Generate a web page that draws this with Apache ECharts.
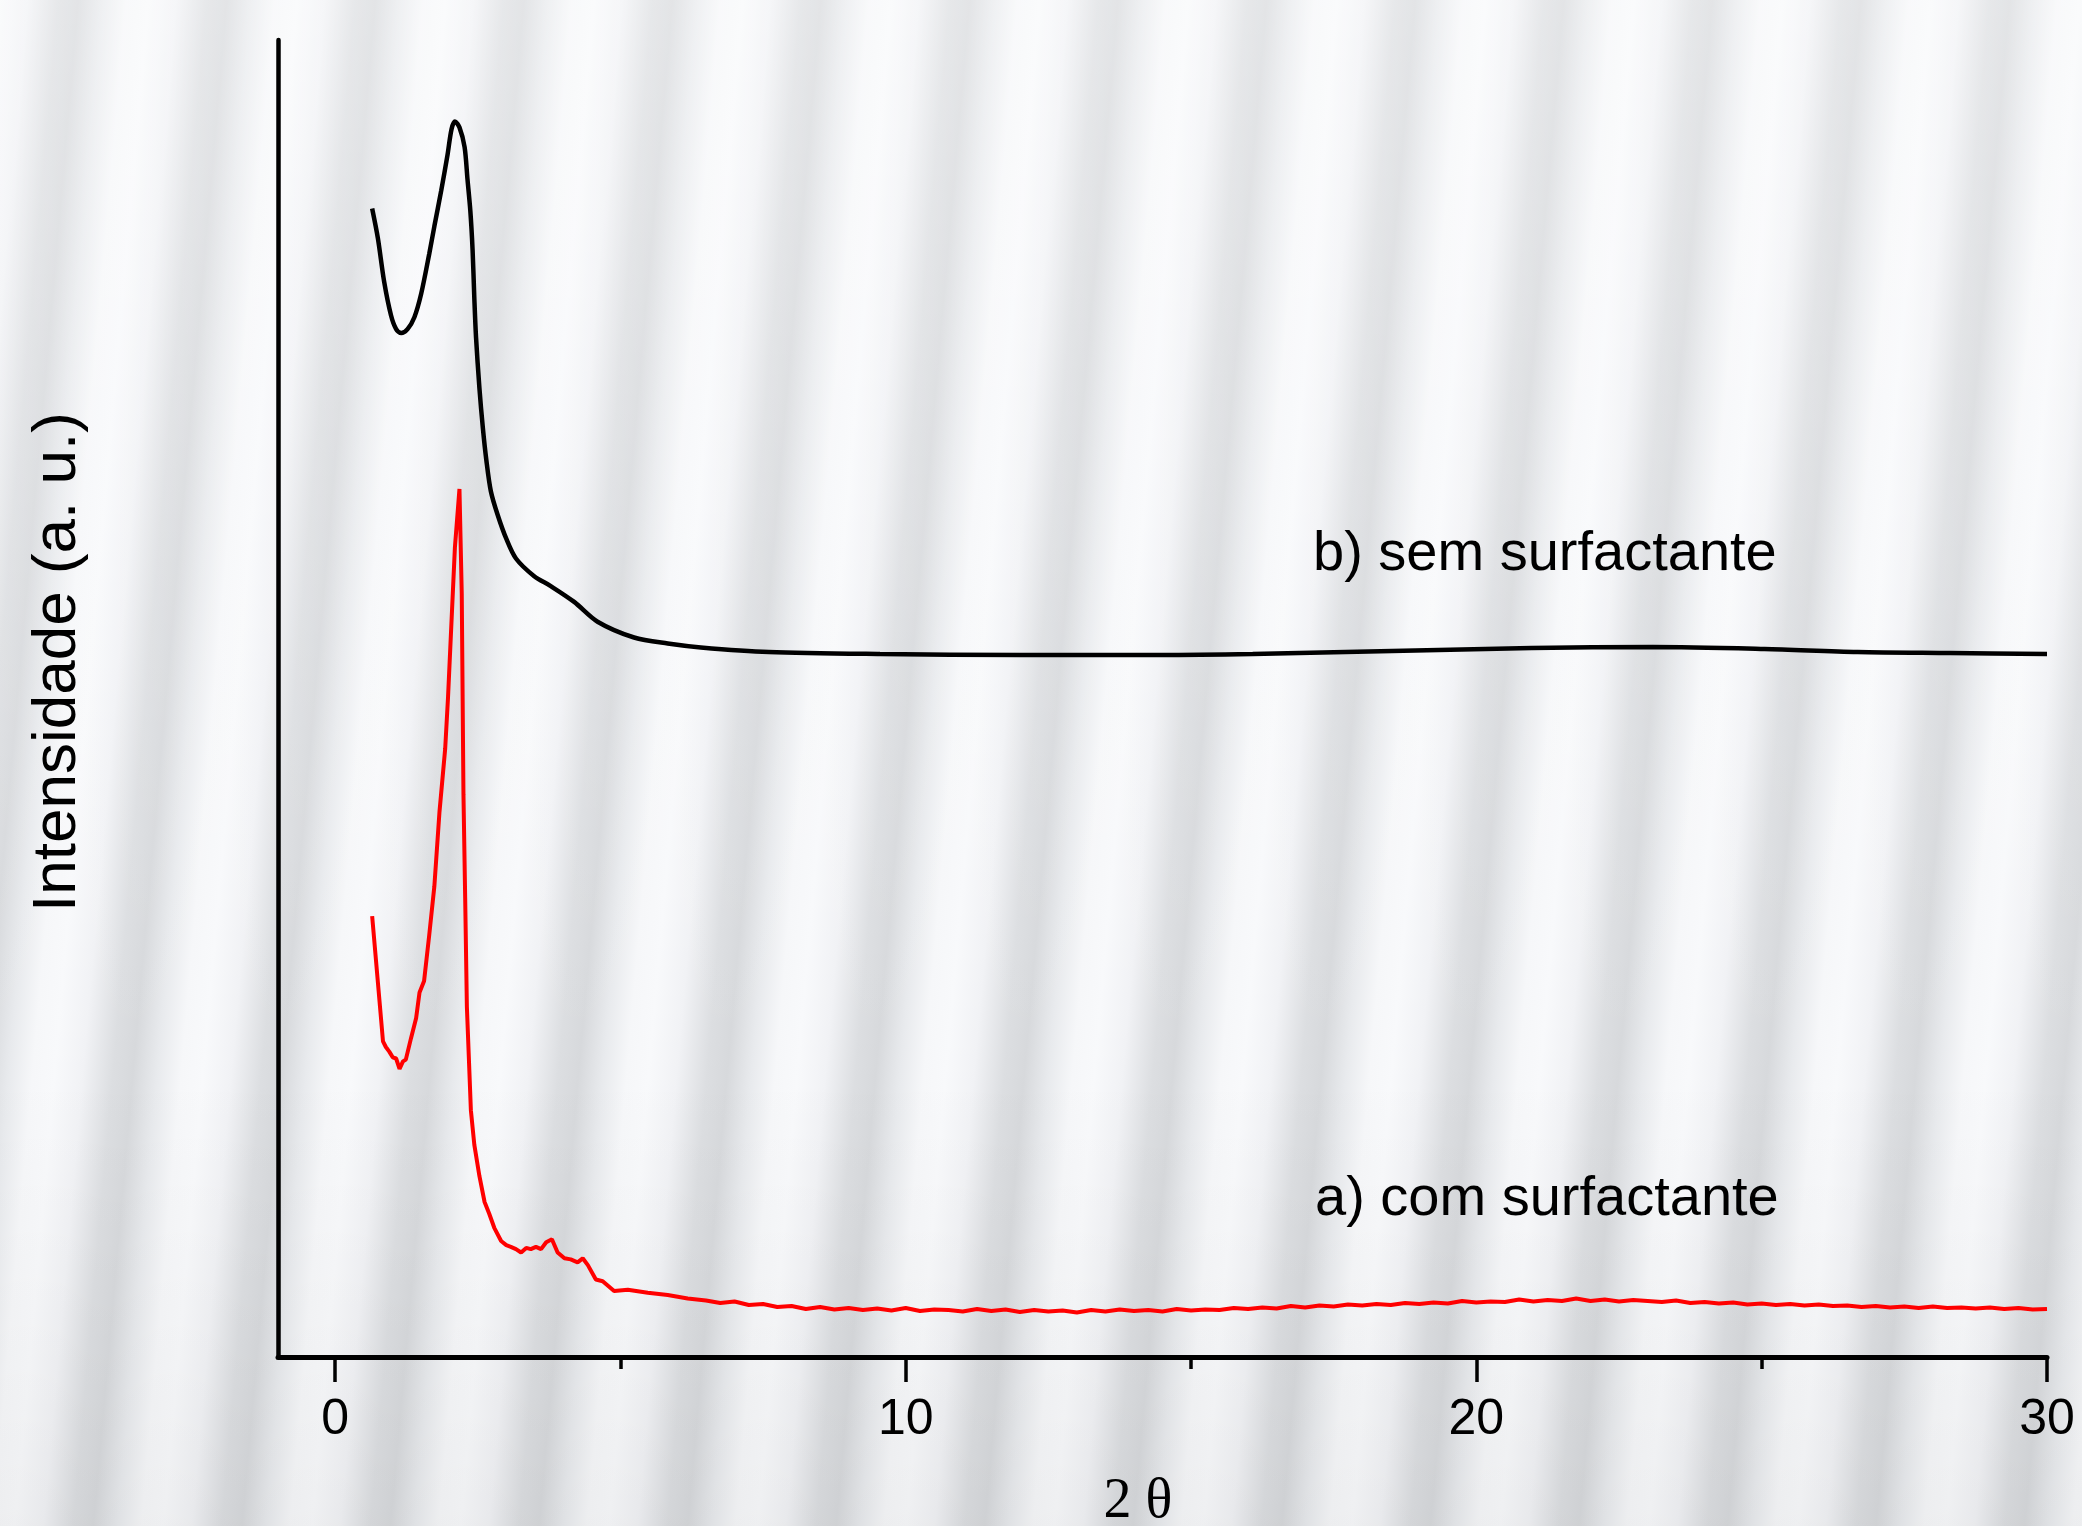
<!DOCTYPE html>
<html>
<head>
<meta charset="utf-8">
<script src="https://cdn.jsdelivr.net/npm/echarts@6/dist/echarts.min.js"></script>
<style>
html,body{margin:0;padding:0;}
#bg{position:absolute;left:0;top:0;width:2082px;height:1526px;
background:
 linear-gradient(180deg, rgba(255,255,255,0.30) 0%, rgba(255,255,255,0.12) 40%, rgba(0,0,0,0.00) 70%, rgba(0,0,0,0.04) 100%),
 repeating-linear-gradient(95deg, #f8f9fb 0px, #f1f2f5 28px, #dcdee1 58px, #d7d9dc 78px, #e8eaed 102px, #f6f7f9 126px, #f8f9fb 148px);}
#chart{position:absolute;left:0;top:0;width:2082px;height:1526px;}
</style>
</head>
<body>
<div id="bg"></div>
<div id="chart"></div>
<script>
// 2θ (degrees) and intensity (a. u.)
const semX = [0.65,0.75,0.86,0.98,1.07,1.16,1.27,1.39,1.51,1.65,1.74,1.86,1.97,2.04,2.10,2.18,2.27,2.32,2.37,2.41,2.44,2.47,2.53,2.59,2.65,2.73,2.85,3.00,3.17,3.49,3.78,4.19,4.60,5.24,5.83,6.41,7.60,9.55,12.0,14.45,16.08,18.52,20.97,23.09,25.05,26.68,28.31,30.0];
const semY = [114.85,111.88,107.53,104.17,102.79,102.39,102.79,103.98,106.35,110.30,113.07,116.63,120.19,122.76,123.55,122.96,120.98,117.81,114.65,110.70,105.95,102.00,96.86,92.90,89.74,86.58,84.20,81.83,79.85,78.08,77.09,75.51,73.53,71.95,71.35,70.96,70.5,70.3,70.2,70.2,70.3,70.6,70.9,71.0,70.8,70.5,70.4,70.3];

const comX = [0.65,0.84,0.89,0.95,1.01,1.07,1.13,1.19,1.24,1.33,1.42,1.48,1.56,1.65,1.74,1.83,1.93,1.98,2.04,2.10,2.18,2.22,2.25,2.28,2.31,2.38,2.44,2.53,2.62,2.70,2.79,2.91,3.00,3.08,3.17,3.26,3.35,3.43,3.52,3.61,3.70,3.80,3.90,4.02,4.13,4.25,4.34,4.43,4.57,4.69,4.89,5.13,5.48,5.83,6.18,
 6.5,6.75,7.0,7.25,7.5,7.75,8.0,8.25,8.5,8.75,9.0,9.25,9.5,9.75,10,10.25,10.5,10.75,11,11.25,11.5,11.75,12,12.25,12.5,12.75,13,13.25,13.5,13.75,14,14.25,14.5,14.75,15,15.25,15.5,15.75,16,16.25,16.5,16.75,17,17.25,17.5,17.75,18,18.25,18.5,18.75,19,19.25,19.5,19.75,20,20.25,20.5,20.75,21,21.25,21.5,21.75,22,22.25,22.5,22.75,23,23.25,23.5,23.75,24,24.25,24.5,24.75,25,25.25,25.5,25.75,26,26.25,26.5,26.75,27,27.25,27.5,27.75,28,28.25,28.5,28.75,29,29.25,29.5,29.75,30];
const comY = [44.09,31.57,31.0,30.54,29.97,29.85,28.82,29.56,29.74,31.86,33.87,36.45,37.6,42.19,47.07,54.53,60.85,66.02,73.48,80.94,86.8,76.35,56.26,45.92,35.02,24.68,21.24,18.08,15.5,14.35,12.92,11.6,11.19,11.02,10.79,10.45,10.91,10.79,11.02,10.79,11.48,11.77,10.45,9.87,9.76,9.47,9.87,9.19,7.75,7.58,6.6,6.72,6.43,6.2,5.85,
 5.65,5.4,5.55,5.2,5.3,5.0,5.1,4.8,5.0,4.75,4.9,4.7,4.85,4.65,4.9,4.6,4.75,4.7,4.55,4.8,4.6,4.75,4.5,4.7,4.55,4.65,4.45,4.7,4.55,4.75,4.6,4.7,4.55,4.8,4.65,4.75,4.7,4.9,4.8,4.95,4.85,5.1,4.95,5.15,5.05,5.25,5.15,5.3,5.2,5.4,5.3,5.45,5.35,5.6,5.45,5.55,5.5,5.75,5.55,5.7,5.6,5.85,5.6,5.75,5.55,5.7,5.6,5.5,5.65,5.4,5.5,5.35,5.45,5.25,5.35,5.2,5.3,5.15,5.25,5.1,5.15,5.0,5.1,4.95,5.05,4.9,5.05,4.9,4.95,4.85,4.95,4.8,4.9,4.75,4.8];

const majorTicks = [0, 10, 20, 30];
const minorTicks = [5, 15, 25];

const labelB = 'b) sem surfactante';
const labelA = 'a) com surfactante';
const yTitle = 'Intensidade (a. u.)';
const xTitle = '2 θ';

const chart = echarts.init(document.getElementById('chart'), null, {renderer: 'canvas'});
const zip = (xs, ys) => xs.map((x, i) => [x, ys[i]]);

chart.setOption({
  backgroundColor: 'transparent',
  animation: false,
  grid: {left: 278, right: 35, top: 40, bottom: 169, containLabel: false},
  xAxis: [
    {
      type: 'value', min: -1, max: 30,
      axisLine: {show: true, onZero: false, lineStyle: {color: '#000', width: 5}},
      axisTick: {show: true, customValues: majorTicks, length: 25, lineStyle: {color: '#000', width: 3.5}},
      axisLabel: {show: true, customValues: majorTicks, color: '#000', fontSize: 50,
                  fontFamily: 'Liberation Sans, Arial, sans-serif', margin: 38},
      splitLine: {show: false}
    },
    {
      type: 'value', min: -1, max: 30, position: 'bottom',
      axisLine: {show: false},
      axisTick: {show: true, customValues: minorTicks, length: 12, lineStyle: {color: '#000', width: 3.5}},
      axisLabel: {show: false},
      splitLine: {show: false}
    }
  ],
  yAxis: {
    type: 'value', min: 0, max: 131.7,
    axisLine: {show: true, onZero: false, lineStyle: {color: '#000', width: 4.5}},
    axisTick: {show: false},
    axisLabel: {show: false},
    splitLine: {show: false}
  },
  series: [
    {
      name: 'b', type: 'line', xAxisIndex: 0, data: zip(semX, semY),
      showSymbol: false, smooth: 0.3,
      lineStyle: {color: '#000', width: 4.5}
    },
    {
      name: 'a', type: 'line', xAxisIndex: 0, data: zip(comX, comY),
      showSymbol: false, smooth: false,
      lineStyle: {color: '#ff0000', width: 4}
    }
  ],
  graphic: [
    {type: 'text', left: 1313, top: 555 - 28, style: {text: labelB, fontSize: 56,
      fontFamily: 'Liberation Sans, Arial, sans-serif', fill: '#000'}},
    {type: 'text', left: 1315, top: 1200 - 28, style: {text: labelA, fontSize: 56,
      fontFamily: 'Liberation Sans, Arial, sans-serif', fill: '#000'}},
    {type: 'text', x: 58, y: 662, rotation: Math.PI / 2,
      style: {text: yTitle, fontSize: 62, fontFamily: 'Liberation Sans, Arial, sans-serif',
        fill: '#000', align: 'center', verticalAlign: 'middle'}},
    {type: 'text', x: 1138, y: 1502,
      style: {text: xTitle, fontSize: 56, fontFamily: 'Liberation Serif, Times New Roman, serif',
        fill: '#000', align: 'center', verticalAlign: 'middle'}}
  ]
});
</script>
</body>
</html>
